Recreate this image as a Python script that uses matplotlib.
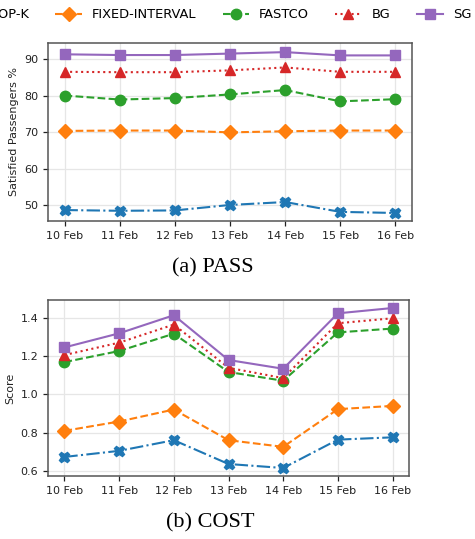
import matplotlib
matplotlib.use("Agg")
import matplotlib.pyplot as plt

dates = ["10 Feb", "11 Feb", "12 Feb", "13 Feb", "14 Feb", "15 Feb", "16 Feb"]
methods = ["TOP-K", "FIXED-INTERVAL", "FASTCO", "BG", "SG"]

pass_topk = [48.7, 48.5, 48.6, 50.1, 50.9, 48.2, 47.9]
pass_fixed = [70.4, 70.5, 70.5, 70.0, 70.3, 70.5, 70.5]
pass_fastco = [80.1, 79.0, 79.4, 80.4, 81.6, 78.5, 79.1]
pass_bg = [86.6, 86.5, 86.5, 87.0, 87.8, 86.6, 86.6]
pass_sg = [91.4, 91.2, 91.2, 91.6, 92.0, 91.1, 91.1]

cost_topk = [0.672, 0.704, 0.760, 0.635, 0.614, 0.763, 0.775]
cost_fixed = [0.809, 0.858, 0.921, 0.760, 0.725, 0.923, 0.940]
cost_fastco = [1.170, 1.228, 1.319, 1.118, 1.072, 1.326, 1.346]
cost_bg = [1.207, 1.272, 1.367, 1.140, 1.086, 1.374, 1.400]
cost_sg = [1.247, 1.321, 1.416, 1.181, 1.135, 1.426, 1.454]

colors = ["#1f77b4", "#ff7f0e", "#2ca02c", "#d62728", "#9467bd"]
markers = ["X", "D", "o", "^", "s"]
styles = ["-.", "--", "--", ":", "-"]

fig = plt.figure(figsize=(4.75, 5.39), dpi=100)
ax1 = fig.add_axes([48/475, 1-221/539, 364/475, 178/539])
ax2 = fig.add_axes([48/475, 1-476/539, 361/475, 176/539])

def draw(ax, series, ylabel, ylim, yticks, yfmt):
    x = list(range(len(dates)))
    handles = []
    for vals, name, c, m, ls in zip(series, methods, colors, markers, styles):
        h, = ax.plot(x, vals, color=c, marker=m, linestyle=ls, linewidth=1.5,
                     markersize=7.5, label=name, zorder=3)
        handles.append(h)
    ax.set_xticks(x)
    ax.set_xticklabels(dates)
    ax.set_ylim(*ylim)
    ax.set_yticks(yticks)
    ax.set_yticklabels([yfmt.format(v) for v in yticks])
    ax.set_xlim(-0.3, len(dates) - 1 + 0.3)
    ax.grid(True, color="#e6e6e6", linewidth=0.9)
    ax.set_axisbelow(True)
    for sp in ax.spines.values():
        sp.set_color("#555555")
        sp.set_linewidth(1.1)
    ax.tick_params(labelsize=8, colors="#222222", length=3.5, width=0.9)
    ax.set_ylabel(ylabel, fontsize=8, color="#222222")
    return handles

handles = draw(ax1, [pass_topk, pass_fixed, pass_fastco, pass_bg, pass_sg],
               "Satisfied Passengers %", (45.7, 94.5), [50, 60, 70, 80, 90], "{:.0f}")
draw(ax2, [cost_topk, cost_fixed, cost_fastco, cost_bg, cost_sg],
     "Score", (0.572, 1.496), [0.6, 0.8, 1.0, 1.2, 1.4], "{:.1f}")

fig.legend(handles=handles, labels=methods, loc="center left",
           bbox_to_anchor=(-0.122, 1 - 15/539), ncol=5, frameon=False,
           fontsize=9.4, handlelength=2.0, columnspacing=2.0)

fig.text(0.448, 1 - 268/539, "(a) PASS", ha="center", va="center",
         fontsize=16, family=["Liberation Serif", "DejaVu Serif"])
fig.text(0.443, 1 - 523/539, "(b) COST", ha="center", va="center",
         fontsize=16, family=["Liberation Serif", "DejaVu Serif"])

fig.savefig("out.png", dpi=100)
